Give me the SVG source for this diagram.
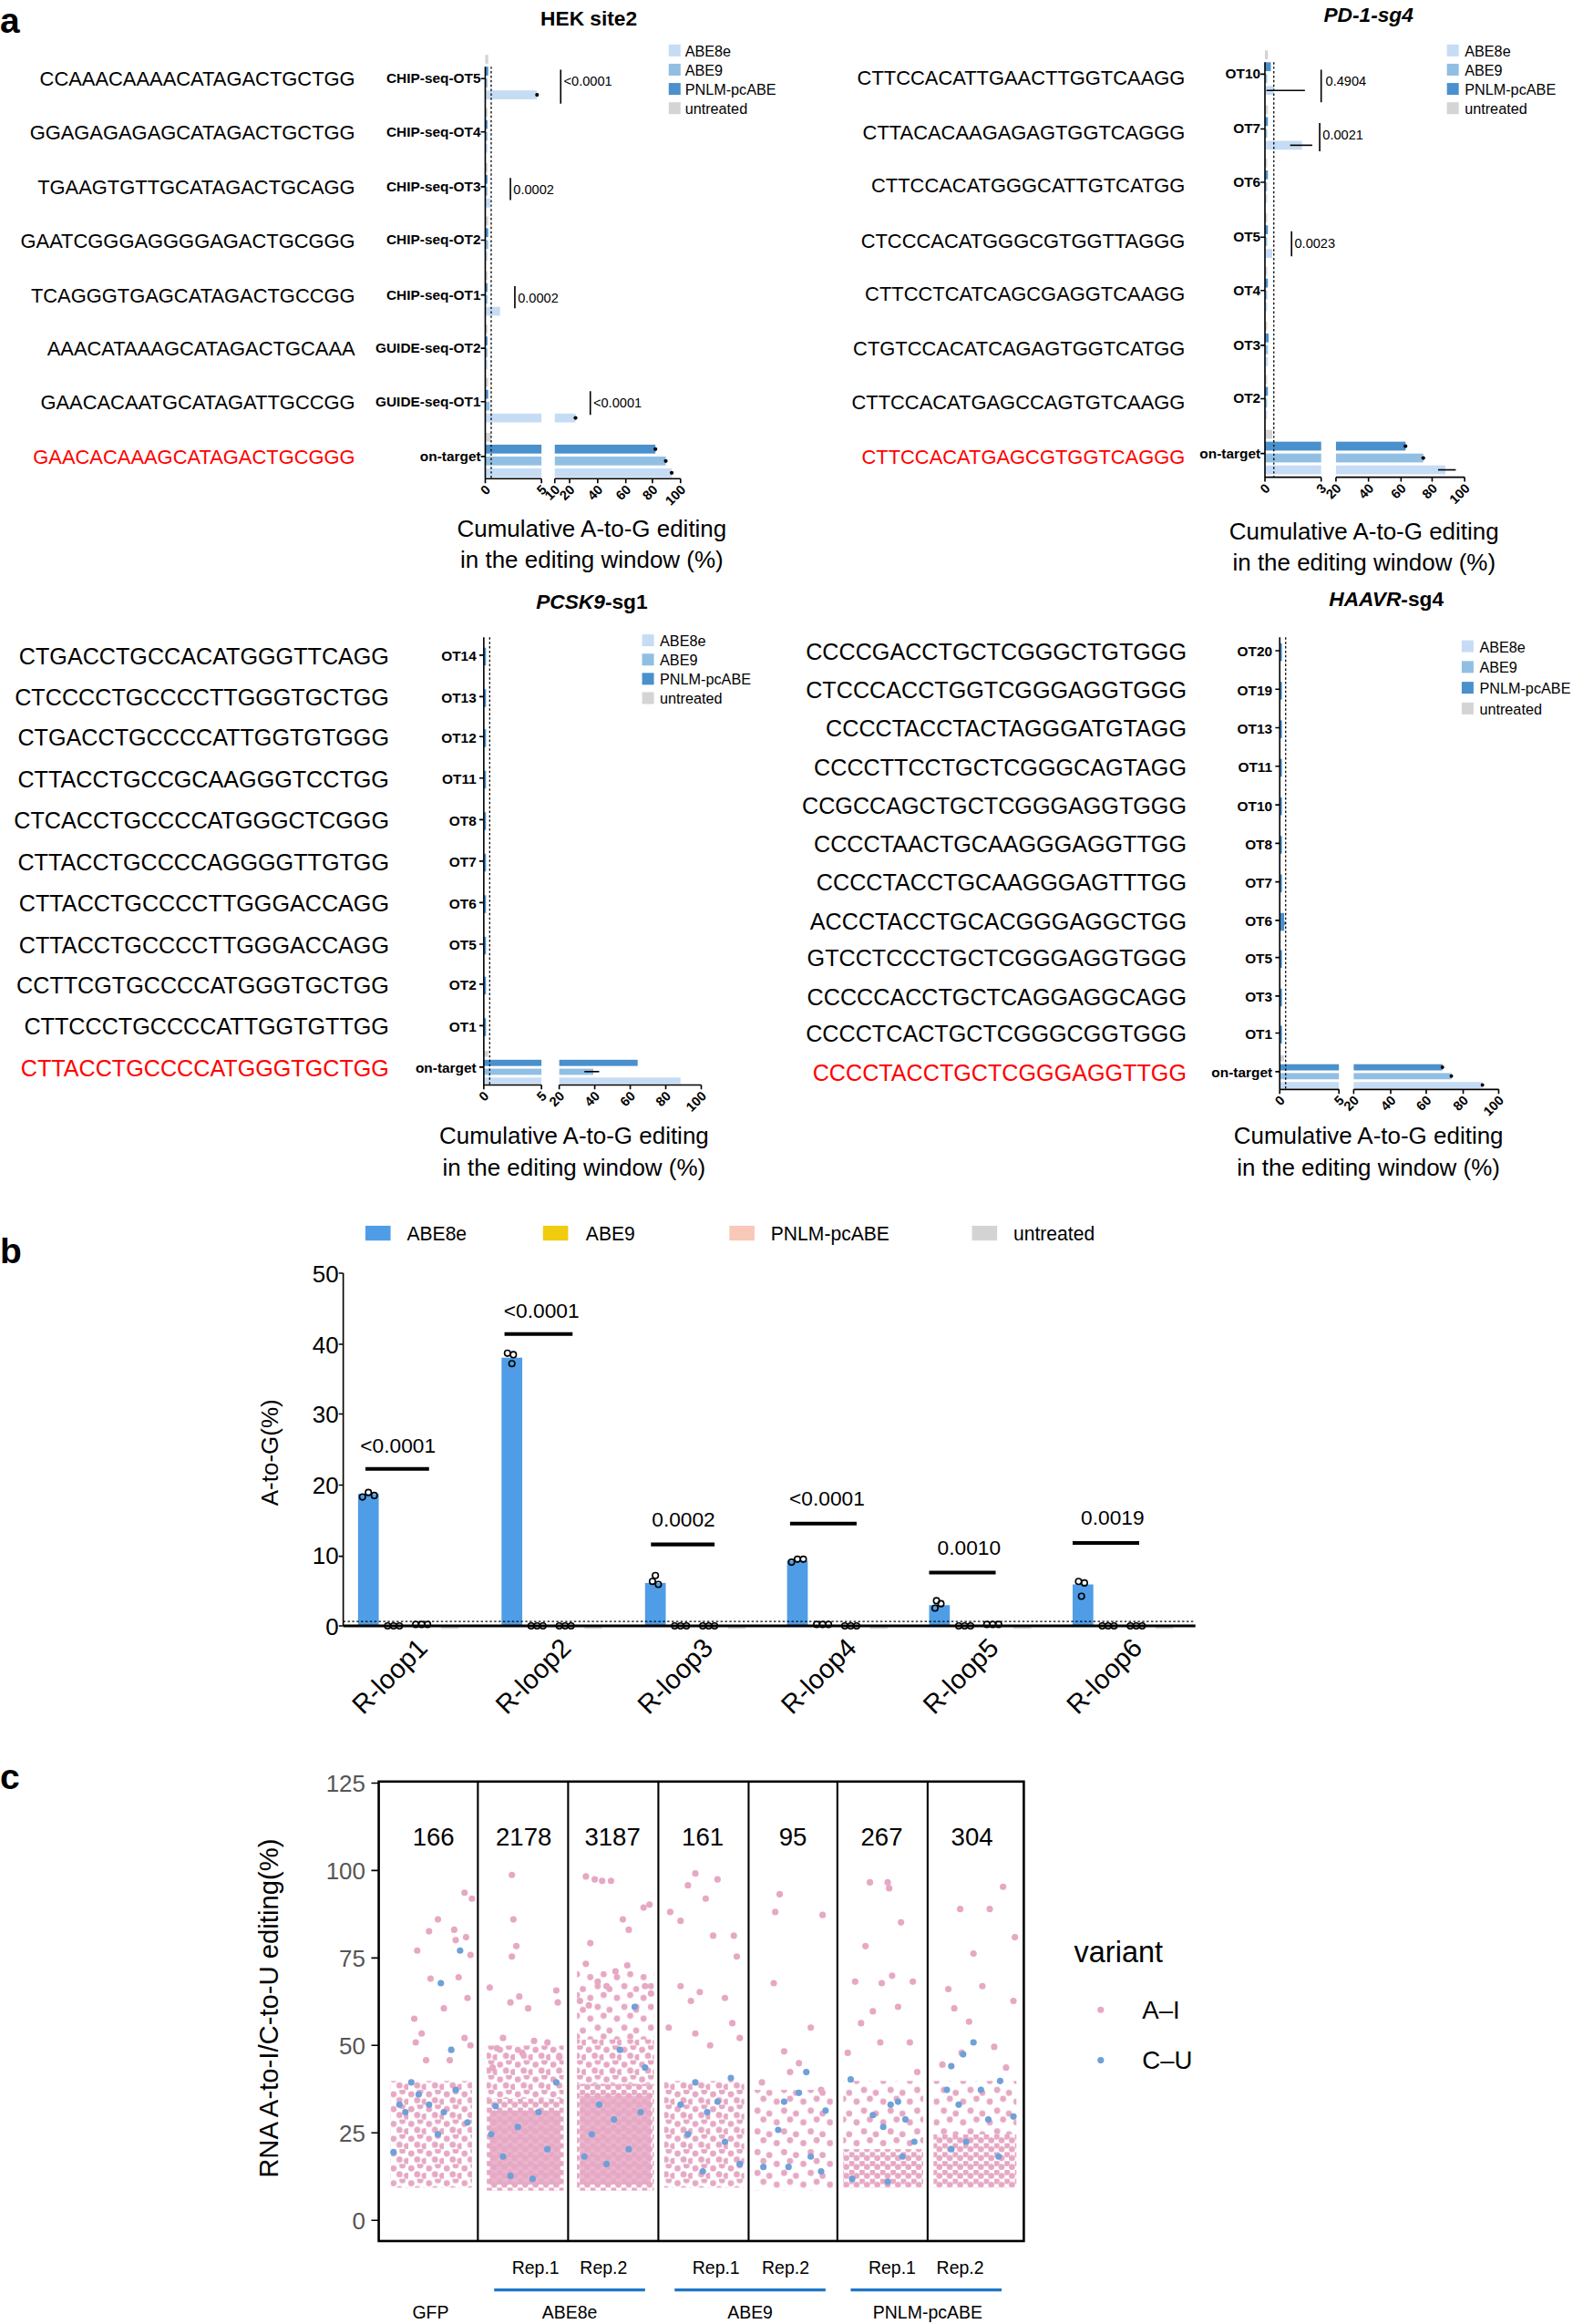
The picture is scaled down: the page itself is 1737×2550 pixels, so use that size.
<svg xmlns="http://www.w3.org/2000/svg" width="1737" height="2550" viewBox="0 0 1737 2550">
<defs>
<style>
text{font-family:"Liberation Sans",Arial,sans-serif;fill:#000}
.pl{font-weight:bold;font-size:24px}
.tt{font-weight:bold;font-size:14px}
.sq{font-size:13.5px}
.sq2{font-size:15.5px}
.red{fill:#ff0000}
.lb{font-weight:bold;font-size:9.5px;text-anchor:end}
.tk{font-weight:bold;font-size:9px;text-anchor:end}
.at{font-size:16px;text-anchor:middle}
.lg{font-size:10px}
.pv{font-size:9px}
.ax{stroke:#000;stroke-width:1;fill:none}
.dt{stroke:#000;stroke-width:0.8;stroke-dasharray:1.5,1.5}
.c1{fill:#c6dcf5}.c2{fill:#91bfe3}.c3{fill:#4a90cc}.c4{fill:#d4d4d4}
.bA{fill:#4f9de6}.bB{fill:#f0cc10}.bC{fill:#f8c8b8}.bD{fill:#d3d3d3}
.pt{stroke:#000;stroke-width:1;fill:none}
.pk{fill:#e6a8c4}.bl{fill:#6fa0d8}
.gy{fill:#555;font-size:16px;text-anchor:end}
</style>
<pattern id="pd" patternUnits="userSpaceOnUse" width="7" height="6"><circle cx="1.5" cy="1.5" r="2.1" fill="#e6a8c4"/><circle cx="5" cy="4" r="2.1" fill="#e6a8c4"/></pattern>
<pattern id="pm" patternUnits="userSpaceOnUse" width="12" height="10"><circle cx="2" cy="3" r="2.1" fill="#e6a8c4"/><circle cx="8" cy="1" r="2.1" fill="#e6a8c4"/><circle cx="6" cy="7" r="2.1" fill="#e6a8c4"/><circle cx="11" cy="8" r="2.1" fill="#e6a8c4"/></pattern>
<pattern id="ps" patternUnits="userSpaceOnUse" width="18" height="14"><circle cx="3" cy="4" r="2.1" fill="#e6a8c4"/><circle cx="12" cy="2" r="2.1" fill="#e6a8c4"/><circle cx="8" cy="10" r="2.1" fill="#e6a8c4"/><circle cx="16" cy="12" r="2.1" fill="#e6a8c4"/></pattern>
</defs>
<rect width="1737" height="2550" fill="#fff"/>
<g transform="scale(1.6234,1.6263)">
<text class="pl" x="0" y="22">a</text>
<text class="pl" x="0" y="852">b</text>
<text class="pl" x="0" y="1207">c</text>

<!-- HEK site2 -->
<g id="hek">
<text class="tt" x="398" y="17" text-anchor="middle">HEK site2</text>
<g class="sq" text-anchor="end">
<text x="240" y="58">CCAAACAAAACATAGACTGCTGG</text>
<text x="240" y="94">GGAGAGAGAGCATAGACTGCTGG</text>
<text x="240" y="131">TGAAGTGTTGCATAGACTGCAGG</text>
<text x="240" y="167">GAATCGGGAGGGGAGACTGCGGG</text>
<text x="240" y="204">TCAGGGTGAGCATAGACTGCCGG</text>
<text x="240" y="240">AAACATAAAGCATAGACTGCAAA</text>
<text x="240" y="276">GAACACAATGCATAGATTGCCGG</text>
<text x="240" y="313" class="red">GAACACAAAGCATAGACTGCGGG</text>
</g>
<text class="lb" x="325" y="56">CHIP-seq-OT5</text>
<text class="lb" x="325" y="92">CHIP-seq-OT4</text>
<text class="lb" x="325" y="129">CHIP-seq-OT3</text>
<text class="lb" x="325" y="165">CHIP-seq-OT2</text>
<text class="lb" x="325" y="202">CHIP-seq-OT1</text>
<text class="lb" x="325" y="238">GUIDE-seq-OT2</text>
<text class="lb" x="325" y="274">GUIDE-seq-OT1</text>
<text class="lb" x="325" y="311">on-target</text>
<g>
<rect class="c4" x="328" y="37" width="2" height="6"/><rect class="c3" x="328" y="45" width="2" height="6"/><rect class="c2" x="328" y="53" width="1.5" height="6"/><rect class="c1" x="328" y="61" width="35" height="6"/>
<rect class="c4" x="328" y="73" width="1.5" height="6"/><rect class="c3" x="328" y="81" width="1.5" height="6"/><rect class="c2" x="328" y="89" width="1.5" height="6"/><rect class="c1" x="328" y="97" width="1.5" height="6"/>
<rect class="c4" x="328" y="110" width="1.5" height="6"/><rect class="c3" x="328" y="118" width="1.5" height="6"/><rect class="c2" x="328" y="126" width="1.5" height="6"/><rect class="c1" x="328" y="134" width="3.5" height="6"/>
<rect class="c4" x="328" y="146" width="2" height="6"/><rect class="c3" x="328" y="154" width="2" height="6"/><rect class="c2" x="328" y="162" width="2" height="6"/><rect class="c1" x="328" y="170" width="1.5" height="6"/>
<rect class="c4" x="328" y="183" width="1.5" height="6"/><rect class="c3" x="328" y="191" width="1.5" height="6"/><rect class="c2" x="328" y="199" width="1.5" height="6"/><rect class="c1" x="328" y="207" width="10" height="6"/>
<rect class="c4" x="328" y="219" width="1.5" height="6"/><rect class="c3" x="328" y="227" width="1.5" height="6"/><rect class="c2" x="328" y="235" width="1.5" height="6"/><rect class="c1" x="328" y="243" width="1.5" height="6"/>
<rect class="c4" x="328" y="255" width="2" height="6"/><rect class="c3" x="328" y="263" width="2" height="6"/><rect class="c2" x="328" y="271" width="3" height="6"/><rect class="c1" x="328" y="279" width="38" height="6"/><rect class="c1" x="375" y="279" width="14" height="6"/>
<rect class="c4" x="328" y="292" width="4" height="6"/>
<rect class="c3" x="328" y="300" width="38" height="6"/><rect class="c3" x="375" y="300" width="68" height="6"/>
<rect class="c2" x="328" y="308" width="38" height="6"/><rect class="c2" x="375" y="308" width="75" height="6"/>
<rect class="c1" x="328" y="316" width="38" height="6"/><rect class="c1" x="375" y="316" width="79" height="6"/>
<circle cx="363" cy="64" r="1.3"/><circle cx="389" cy="282" r="1.3"/><circle cx="443" cy="303" r="1.3"/><circle cx="450" cy="311" r="1.3"/><circle cx="454" cy="319" r="1.3"/>
</g>
<line class="dt" x1="332" y1="45" x2="332" y2="323"/>
<path class="ax" d="M328 45V323H366M375 323H460M328 323v3M366 323v3M375 323v3M385 323v3M404 323v3M423 323v3M441 323v3M460 323v3"/>
<path class="ax" d="M325 53h3M325 89h3M325 126h3M325 162h3M325 199h3M325 235h3M325 271h3M325 308h3"/>
<g class="tk">
<text transform="translate(332,331) rotate(-45)">0</text><text transform="translate(370,331) rotate(-45)">5</text><text transform="translate(379,331) rotate(-45)">10</text><text transform="translate(389,331) rotate(-45)">20</text><text transform="translate(408,331) rotate(-45)">40</text><text transform="translate(427,331) rotate(-45)">60</text><text transform="translate(445,331) rotate(-45)">80</text><text transform="translate(464,331) rotate(-45)">100</text>
</g>
<path class="ax" d="M379 47V70M345 120V135M348 193V208M399 264V280"/>
<text class="pv" x="381" y="58">&lt;0.0001</text><text class="pv" x="347" y="131">0.0002</text><text class="pv" x="350" y="204">0.0002</text><text class="pv" x="401" y="275">&lt;0.0001</text>
<rect class="c1" x="452" y="30" width="8" height="8"/><rect class="c2" x="452" y="43" width="8" height="8"/><rect class="c3" x="452" y="56" width="8" height="8"/><rect class="c4" x="452" y="69" width="8" height="8"/>
<text class="lg" x="463" y="38">ABE8e</text><text class="lg" x="463" y="51">ABE9</text><text class="lg" x="463" y="64">PNLM-pcABE</text><text class="lg" x="463" y="77">untreated</text>
<text class="at" x="400" y="362">Cumulative A-to-G editing</text><text class="at" x="400" y="383">in the editing window (%)</text>
</g>

<!-- PD-1 -->
<g id="pd1">
<text class="tt" x="925" y="15" text-anchor="middle" font-style="italic">PD-1-sg4</text>
<g class="sq" text-anchor="end">
<text x="801" y="57">CTTCCACATTGAACTTGGTCAAGG</text>
<text x="801" y="94">CTTACACAAGAGAGTGGTCAGGG</text>
<text x="801" y="130">CTTCCACATGGGCATTGTCATGG</text>
<text x="801" y="167">CTCCCACATGGGCGTGGTTAGGG</text>
<text x="801" y="203">CTTCCTCATCAGCGAGGTCAAGG</text>
<text x="801" y="240">CTGTCCACATCAGAGTGGTCATGG</text>
<text x="801" y="276">CTTCCACATGAGCCAGTGTCAAGG</text>
<text x="801" y="313" class="red">CTTCCACATGAGCGTGGTCAGGG</text>
</g>
<text class="lb" x="852" y="53">OT10</text><text class="lb" x="852" y="90">OT7</text><text class="lb" x="852" y="126">OT6</text><text class="lb" x="852" y="163">OT5</text><text class="lb" x="852" y="199">OT4</text><text class="lb" x="852" y="236">OT3</text><text class="lb" x="852" y="272">OT2</text><text class="lb" x="852" y="309">on-target</text>
<g>
<rect class="c4" x="855" y="34" width="2" height="6"/><rect class="c3" x="855" y="42" width="4" height="6"/><rect class="c2" x="855" y="50" width="1.5" height="6"/><rect class="c1" x="855" y="58" width="6" height="6"/>
<path class="ax" d="M856 61H882" stroke-width="0.7"/>
<rect class="c4" x="855" y="71" width="2" height="6"/><rect class="c3" x="855" y="79" width="2" height="6"/><rect class="c2" x="855" y="87" width="1.5" height="6"/><rect class="c1" x="855" y="95" width="25" height="6"/>
<path class="ax" d="M872 98H887" stroke-width="0.7"/>
<rect class="c4" x="855" y="107" width="1.5" height="6"/><rect class="c3" x="855" y="115" width="2" height="6"/><rect class="c2" x="855" y="123" width="1.5" height="6"/><rect class="c1" x="855" y="131" width="1.5" height="6"/>
<rect class="c4" x="855" y="144" width="1.5" height="6"/><rect class="c3" x="855" y="152" width="2" height="6"/><rect class="c2" x="855" y="160" width="1.5" height="6"/><rect class="c1" x="855" y="168" width="5" height="6"/>
<rect class="c4" x="855" y="180" width="1.5" height="6"/><rect class="c3" x="855" y="188" width="2" height="6"/><rect class="c2" x="855" y="196" width="1.5" height="6"/><rect class="c1" x="855" y="204" width="1.5" height="6"/>
<rect class="c4" x="855" y="217" width="1.5" height="6"/><rect class="c3" x="855" y="225" width="2.5" height="6"/><rect class="c2" x="855" y="233" width="2" height="6"/><rect class="c1" x="855" y="241" width="2" height="6"/>
<rect class="c4" x="855" y="253" width="1.5" height="6"/><rect class="c3" x="855" y="261" width="2" height="6"/><rect class="c2" x="855" y="269" width="1.5" height="6"/><rect class="c1" x="855" y="277" width="1.5" height="6"/>
<rect class="c4" x="855" y="290" width="5" height="6"/>
<rect class="c3" x="855" y="298" width="38" height="6"/><rect class="c3" x="903" y="298" width="47" height="6"/>
<rect class="c2" x="855" y="306" width="38" height="6"/><rect class="c2" x="903" y="306" width="59" height="6"/>
<rect class="c1" x="855" y="314" width="38" height="6"/><rect class="c1" x="903" y="314" width="74" height="6"/>
<circle cx="950" cy="301" r="1.3"/><circle cx="962" cy="309" r="1.3"/><path class="ax" d="M972 317H984" stroke-width="0.7"/>
</g>
<line class="dt" x1="861" y1="42" x2="861" y2="322"/>
<path class="ax" d="M855 42V322H893M903 322H990M855 322v3M893 322v3M903 322v3M925 322v3M947 322v3M968 322v3M990 322v3"/>
<path class="ax" d="M852 50h3M852 87h3M852 123h3M852 160h3M852 196h3M852 233h3M852 269h3M852 306h3"/>
<g class="tk">
<text transform="translate(859,330) rotate(-45)">0</text><text transform="translate(897,330) rotate(-45)">3</text><text transform="translate(907,330) rotate(-45)">20</text><text transform="translate(929,330) rotate(-45)">40</text><text transform="translate(951,330) rotate(-45)">60</text><text transform="translate(972,330) rotate(-45)">80</text><text transform="translate(994,330) rotate(-45)">100</text>
</g>
<path class="ax" d="M893 47V69M892 83V102M873 156V173"/>
<text class="pv" x="896" y="58">0.4904</text><text class="pv" x="894" y="94">0.0021</text><text class="pv" x="875" y="167">0.0023</text>
<rect class="c1" x="978" y="30" width="8" height="8"/><rect class="c2" x="978" y="43" width="8" height="8"/><rect class="c3" x="978" y="56" width="8" height="8"/><rect class="c4" x="978" y="69" width="8" height="8"/>
<text class="lg" x="990" y="38">ABE8e</text><text class="lg" x="990" y="51">ABE9</text><text class="lg" x="990" y="64">PNLM-pcABE</text><text class="lg" x="990" y="77">untreated</text>
<text class="at" x="922" y="364">Cumulative A-to-G editing</text><text class="at" x="922" y="385">in the editing window (%)</text>
</g>

<!-- PCSK9 -->
<g id="pcsk9">
<text class="tt" x="400" y="411" text-anchor="middle"><tspan font-style="italic">PCSK9</tspan>-sg1</text>
<g class="sq2" text-anchor="end">
<text x="263" y="448">CTGACCTGCCACATGGGTTCAGG</text>
<text x="263" y="476">CTCCCCTGCCCCTTGGGTGCTGG</text>
<text x="263" y="503">CTGACCTGCCCCATTGGTGTGGG</text>
<text x="263" y="531">CTTACCTGCCGCAAGGGTCCTGG</text>
<text x="263" y="559">CTCACCTGCCCCATGGGCTCGGG</text>
<text x="263" y="587">CTTACCTGCCCCAGGGGTTGTGG</text>
<text x="263" y="615">CTTACCTGCCCCTTGGGACCAGG</text>
<text x="263" y="643">CTTACCTGCCCCTTGGGACCAGG</text>
<text x="263" y="670">CCTTCGTGCCCCATGGGTGCTGG</text>
<text x="263" y="698">CTTCCCTGCCCCATTGGTGTTGG</text>
<text x="263" y="726" class="red">CTTACCTGCCCCATGGGTGCTGG</text>
</g>
<text class="lb" x="322" y="446">OT14</text><text class="lb" x="322" y="474">OT13</text><text class="lb" x="322" y="501">OT12</text><text class="lb" x="322" y="529">OT11</text><text class="lb" x="322" y="557">OT8</text><text class="lb" x="322" y="585">OT7</text><text class="lb" x="322" y="613">OT6</text><text class="lb" x="322" y="641">OT5</text><text class="lb" x="322" y="668">OT2</text><text class="lb" x="322" y="696">OT1</text><text class="lb" x="322" y="724">on-target</text>
<g>
<rect class="c3" x="327" y="437" width="1.5" height="12"/><rect class="c3" x="327" y="465" width="1.5" height="12"/><rect class="c3" x="327" y="492" width="1.5" height="12"/><rect class="c3" x="327" y="520" width="1.5" height="12"/><rect class="c3" x="327" y="548" width="1.5" height="12"/><rect class="c3" x="327" y="576" width="1.5" height="12"/><rect class="c3" x="327" y="604" width="1.5" height="12"/><rect class="c3" x="327" y="632" width="1.5" height="12"/><rect class="c3" x="327" y="659" width="1.5" height="12"/><rect class="c3" x="327" y="687" width="1.5" height="12"/>
<rect class="c4" x="327" y="709" width="3" height="4"/>
<rect class="c3" x="327" y="715" width="39" height="4.2"/><rect class="c3" x="378" y="715" width="53" height="4.2"/>
<rect class="c2" x="327" y="721" width="39" height="4.2"/><rect class="c2" x="378" y="721" width="23" height="4.2"/>
<rect class="c1" x="327" y="727" width="39" height="4.2"/><rect class="c1" x="378" y="727" width="82" height="4.2"/>
<path class="ax" d="M395 723H405" stroke-width="0.6"/>
</g>
<line class="dt" x1="331" y1="430" x2="331" y2="732"/>
<path class="ax" d="M327 430V732H366M378 732H474M327 732v3M366 732v3M378 732v3M402 732v3M426 732v3M450 732v3M474 732v3"/>
<path class="ax" d="M324 442h3M324 470h3M324 497h3M324 525h3M324 553h3M324 581h3M324 609h3M324 637h3M324 664h3M324 692h3M324 720h3"/>
<g class="tk">
<text transform="translate(331,740) rotate(-45)">0</text><text transform="translate(370,740) rotate(-45)">5</text><text transform="translate(382,740) rotate(-45)">20</text><text transform="translate(406,740) rotate(-45)">40</text><text transform="translate(430,740) rotate(-45)">60</text><text transform="translate(454,740) rotate(-45)">80</text><text transform="translate(478,740) rotate(-45)">100</text>
</g>
<rect class="c1" x="434" y="428" width="8" height="8"/><rect class="c2" x="434" y="441" width="8" height="8"/><rect class="c3" x="434" y="454" width="8" height="8"/><rect class="c4" x="434" y="467" width="8" height="8"/>
<text class="lg" x="446" y="436">ABE8e</text><text class="lg" x="446" y="449">ABE9</text><text class="lg" x="446" y="462">PNLM-pcABE</text><text class="lg" x="446" y="475">untreated</text>
<text class="at" x="388" y="772">Cumulative A-to-G editing</text><text class="at" x="388" y="793">in the editing window (%)</text>
</g>

<!-- HAAVR -->
<g id="haavr">
<text class="tt" x="937" y="409" text-anchor="middle"><tspan font-style="italic">HAAVR</tspan>-sg4</text>
<g class="sq2" text-anchor="end">
<text x="802" y="445">CCCCGACCTGCTCGGGCTGTGGG</text>
<text x="802" y="471">CTCCCACCTGGTCGGGAGGTGGG</text>
<text x="802" y="497">CCCCTACCTACTAGGGATGTAGG</text>
<text x="802" y="523">CCCCTTCCTGCTCGGGCAGTAGG</text>
<text x="802" y="549">CCGCCAGCTGCTCGGGAGGTGGG</text>
<text x="802" y="575">CCCCTAACTGCAAGGGAGGTTGG</text>
<text x="802" y="601">CCCCTACCTGCAAGGGAGTTTGG</text>
<text x="802" y="627">ACCCTACCTGCACGGGAGGCTGG</text>
<text x="802" y="652">GTCCTCCCTGCTCGGGAGGTGGG</text>
<text x="802" y="678">CCCCCACCTGCTCAGGAGGCAGG</text>
<text x="802" y="703">CCCCTCACTGCTCGGGCGGTGGG</text>
<text x="802" y="729" class="red">CCCCTACCTGCTCGGGAGGTTGG</text>
</g>
<text class="lb" x="860" y="443">OT20</text><text class="lb" x="860" y="469">OT19</text><text class="lb" x="860" y="495">OT13</text><text class="lb" x="860" y="521">OT11</text><text class="lb" x="860" y="547">OT10</text><text class="lb" x="860" y="573">OT8</text><text class="lb" x="860" y="599">OT7</text><text class="lb" x="860" y="625">OT6</text><text class="lb" x="860" y="650">OT5</text><text class="lb" x="860" y="676">OT3</text><text class="lb" x="860" y="701">OT1</text><text class="lb" x="860" y="727">on-target</text>
<g>
<rect class="c3" x="865" y="434" width="1.5" height="12"/><rect class="c3" x="865" y="460" width="1.5" height="12"/><rect class="c3" x="865" y="486" width="1.5" height="12"/><rect class="c3" x="865" y="512" width="1.5" height="12"/><rect class="c3" x="865" y="538" width="1.5" height="12"/><rect class="c3" x="865" y="564" width="1.5" height="12"/><rect class="c3" x="865" y="590" width="1.5" height="12"/><rect class="c3" x="865" y="616" width="3" height="12"/><rect class="c3" x="865" y="641" width="1.5" height="12"/><rect class="c3" x="865" y="667" width="1.5" height="12"/><rect class="c3" x="865" y="692" width="1.5" height="12"/>
<circle cx="868" cy="623" r="1.3" fill="#4a90cc"/>
<rect class="c4" x="865" y="712" width="3" height="4"/>
<rect class="c3" x="865" y="718" width="40" height="4.2"/><rect class="c3" x="915" y="718" width="60" height="4.2"/>
<rect class="c2" x="865" y="724" width="40" height="4.2"/><rect class="c2" x="915" y="724" width="66" height="4.2"/>
<rect class="c1" x="865" y="730" width="40" height="4.2"/><rect class="c1" x="915" y="730" width="87" height="4.2"/>
<circle cx="975" cy="720" r="1.2"/><circle cx="981" cy="726" r="1.2"/><circle cx="1002" cy="732" r="1.2"/>
</g>
<line class="dt" x1="869" y1="430" x2="869" y2="735"/>
<path class="ax" d="M865 430V735H905M915 735H1013M865 735v3M905 735v3M915 735v3M940 735v3M964 735v3M989 735v3M1013 735v3"/>
<path class="ax" d="M862 439h3M862 465h3M862 491h3M862 517h3M862 543h3M862 569h3M862 595h3M862 621h3M862 646h3M862 672h3M862 697h3M862 723h3"/>
<g class="tk">
<text transform="translate(869,743) rotate(-45)">0</text><text transform="translate(909,743) rotate(-45)">5</text><text transform="translate(919,743) rotate(-45)">20</text><text transform="translate(944,743) rotate(-45)">40</text><text transform="translate(968,743) rotate(-45)">60</text><text transform="translate(993,743) rotate(-45)">80</text><text transform="translate(1017,743) rotate(-45)">100</text>
</g>
<rect class="c1" x="988" y="432" width="8" height="8"/><rect class="c2" x="988" y="446" width="8" height="8"/><rect class="c3" x="988" y="460" width="8" height="8"/><rect class="c4" x="988" y="474" width="8" height="8"/>
<text class="lg" x="1000" y="440">ABE8e</text><text class="lg" x="1000" y="454">ABE9</text><text class="lg" x="1000" y="468">PNLM-pcABE</text><text class="lg" x="1000" y="482">untreated</text>
<text class="at" x="925" y="772">Cumulative A-to-G editing</text><text class="at" x="925" y="793">in the editing window (%)</text>
</g>

<!-- Panel b -->
<g id="panelb">
<rect class="bA" x="247" y="827" width="17" height="10"/><rect class="bB" x="367" y="827" width="17" height="10"/><rect class="bC" x="493" y="827" width="17" height="10"/><rect class="bD" x="657" y="827" width="17" height="10"/>
<text x="275" y="837" font-size="13">ABE8e</text><text x="396" y="837" font-size="13">ABE9</text><text x="521" y="837" font-size="13">PNLM-pcABE</text><text x="685" y="837" font-size="13">untreated</text>
<g font-size="16" text-anchor="end">
<text x="229" y="1103">0</text><text x="229" y="1055">10</text><text x="229" y="1008">20</text><text x="229" y="960">30</text><text x="229" y="913">40</text><text x="229" y="865">50</text>
</g>
<text transform="translate(188,980) rotate(-90)" font-size="16" text-anchor="middle">A-to-G(%)</text>
<path class="ax" d="M232 859V1097M229 859h3M229 907h3M229 954h3M229 1002h3M229 1050h3M229 1097h3"/>
<rect class="bA" x="242" y="1008" width="14" height="89"/><rect class="bA" x="339" y="916" width="14" height="181"/><rect class="bA" x="436" y="1068" width="14" height="29"/><rect class="bA" x="532" y="1053" width="14" height="44"/><rect class="bA" x="628" y="1083" width="14" height="14"/><rect class="bA" x="725" y="1069" width="14" height="28"/>
<g fill="#d3d3d3"><rect x="298" y="1097" width="12" height="2"/><rect x="395" y="1097" width="12" height="2"/><rect x="492" y="1097" width="12" height="2"/><rect x="588" y="1097" width="12" height="2"/><rect x="685" y="1097" width="12" height="2"/><rect x="781" y="1097" width="12" height="2"/></g>
<g class="pt">
<circle cx="245" cy="1010" r="2"/><circle cx="249" cy="1007" r="2"/><circle cx="253" cy="1009" r="2"/>
<circle cx="343" cy="913" r="2"/><circle cx="347" cy="914" r="2"/><circle cx="346" cy="920" r="2"/>
<circle cx="441" cy="1067" r="2"/><circle cx="445" cy="1069" r="2"/><circle cx="443" cy="1063" r="2"/>
<circle cx="535" cy="1054" r="2"/><circle cx="539" cy="1052" r="2"/><circle cx="543" cy="1052" r="2"/>
<circle cx="632" cy="1085" r="2"/><circle cx="636" cy="1082" r="2"/><circle cx="633" cy="1080" r="2"/>
<circle cx="729" cy="1067" r="2"/><circle cx="733" cy="1068" r="2"/><circle cx="731" cy="1077" r="2"/>
</g>
<g class="pt" fill="#f0cc10">
<circle cx="262" cy="1097" r="2"/><circle cx="266" cy="1097" r="2"/><circle cx="270" cy="1097" r="2"/><circle cx="281" cy="1096" r="2"/><circle cx="285" cy="1096" r="2"/><circle cx="289" cy="1096" r="2"/>
<circle cx="359" cy="1097" r="2"/><circle cx="363" cy="1097" r="2"/><circle cx="367" cy="1097" r="2"/><circle cx="378" cy="1097" r="2"/><circle cx="382" cy="1097" r="2"/><circle cx="386" cy="1097" r="2"/>
<circle cx="456" cy="1097" r="2"/><circle cx="460" cy="1097" r="2"/><circle cx="464" cy="1097" r="2"/><circle cx="475" cy="1097" r="2"/><circle cx="479" cy="1097" r="2"/><circle cx="483" cy="1097" r="2"/>
<circle cx="552" cy="1096" r="2"/><circle cx="556" cy="1096" r="2"/><circle cx="560" cy="1096" r="2"/><circle cx="571" cy="1097" r="2"/><circle cx="575" cy="1097" r="2"/><circle cx="579" cy="1097" r="2"/>
<circle cx="648" cy="1097" r="2"/><circle cx="652" cy="1097" r="2"/><circle cx="656" cy="1097" r="2"/><circle cx="667" cy="1096" r="2"/><circle cx="671" cy="1096" r="2"/><circle cx="675" cy="1096" r="2"/>
<circle cx="745" cy="1097" r="2"/><circle cx="749" cy="1097" r="2"/><circle cx="753" cy="1097" r="2"/><circle cx="764" cy="1097" r="2"/><circle cx="768" cy="1097" r="2"/><circle cx="772" cy="1097" r="2"/>
</g>
<line class="dt" x1="232" y1="1094" x2="808" y2="1094" stroke-width="1.2"/>
<line x1="232" y1="1097" x2="808" y2="1097" stroke="#000" stroke-width="1.8"/>
<g stroke="#000" stroke-width="2.5"><path d="M247 991H290M341 900H387M440 1042H483M534 1028H579M628 1061H673M725 1041H770"/></g>
<g font-size="14" text-anchor="middle">
<text x="269" y="980">&lt;0.0001</text><text x="366" y="889">&lt;0.0001</text><text x="462" y="1030">0.0002</text><text x="559" y="1016">&lt;0.0001</text><text x="655" y="1049">0.0010</text><text x="752" y="1029">0.0019</text>
</g>
<g font-size="18" text-anchor="end">
<text transform="translate(290,1113) rotate(-45)">R-loop1</text><text transform="translate(387,1113) rotate(-45)">R-loop2</text><text transform="translate(483,1113) rotate(-45)">R-loop3</text><text transform="translate(580,1113) rotate(-45)">R-loop4</text><text transform="translate(676,1113) rotate(-45)">R-loop5</text><text transform="translate(773,1113) rotate(-45)">R-loop6</text>
</g>
</g>

<!-- Panel c -->
<g id="panelc">
<rect x="264" y="1404" width="55" height="72" fill="url(#pm)"/>
<rect x="331" y="1424" width="48" height="50" fill="#eab6cd"/><rect x="329" y="1416" width="52" height="62" fill="url(#pd)"/><rect x="329" y="1380" width="52" height="36" fill="url(#pm)"/>
<rect x="392" y="1414" width="48" height="60" fill="#eab6cd"/><rect x="390" y="1406" width="52" height="72" fill="url(#pd)"/><rect x="390" y="1376" width="52" height="30" fill="url(#pm)"/><rect x="390" y="1330" width="52" height="46" fill="url(#ps)"/>
<rect x="449" y="1404" width="54" height="72" fill="url(#pm)"/>
<rect x="510" y="1410" width="53" height="68" fill="url(#ps)"/>
<rect x="570" y="1450" width="54" height="26" fill="url(#pd)"/><rect x="570" y="1404" width="54" height="46" fill="url(#ps)"/>
<rect x="631" y="1440" width="56" height="36" fill="url(#pd)"/><rect x="631" y="1404" width="56" height="36" fill="url(#ps)"/>
<g class="pk">
<circle cx="296" cy="1295" r="2.2"/><circle cx="307" cy="1302" r="2.2"/><circle cx="308" cy="1309" r="2.2"/><circle cx="310" cy="1334" r="2.2"/><circle cx="315" cy="1307" r="2.2"/><circle cx="319" cy="1281" r="2.2"/><circle cx="314" cy="1277" r="2.2"/><circle cx="318" cy="1319" r="2.2"/><circle cx="316" cy="1348" r="2.2"/><circle cx="318" cy="1380" r="2.2"/><circle cx="290" cy="1303" r="2.2"/><circle cx="280" cy="1362" r="2.2"/><circle cx="285" cy="1372" r="2.2"/><circle cx="288" cy="1390" r="2.2"/><circle cx="291" cy="1335" r="2.2"/><circle cx="281" cy="1378" r="2.2"/><circle cx="300" cy="1355" r="2.2"/><circle cx="314" cy="1375" r="2.2"/><circle cx="304" cy="1390" r="2.2"/><circle cx="282" cy="1316" r="2.2"/>
<circle cx="346" cy="1265" r="2.2"/><circle cx="347" cy="1295" r="2.2"/><circle cx="349" cy="1313" r="2.2"/><circle cx="346" cy="1320" r="2.2"/><circle cx="331" cy="1341" r="2.2"/><circle cx="351" cy="1347" r="2.2"/><circle cx="345" cy="1351" r="2.2"/><circle cx="357" cy="1355" r="2.2"/><circle cx="377" cy="1351" r="2.2"/><circle cx="376" cy="1343" r="2.2"/><circle cx="340" cy="1375" r="2.2"/><circle cx="336" cy="1382" r="2.2"/><circle cx="361" cy="1377" r="2.2"/><circle cx="370" cy="1378" r="2.2"/><circle cx="353" cy="1385" r="2.2"/><circle cx="378" cy="1388" r="2.2"/><circle cx="333" cy="1395" r="2.2"/>
<circle cx="396" cy="1266" r="2.2"/><circle cx="402" cy="1268" r="2.2"/><circle cx="407" cy="1269" r="2.2"/><circle cx="413" cy="1269" r="2.2"/><circle cx="421" cy="1295" r="2.2"/><circle cx="425" cy="1302" r="2.2"/><circle cx="439" cy="1285" r="2.2"/><circle cx="435" cy="1287" r="2.2"/><circle cx="399" cy="1311" r="2.2"/><circle cx="396" cy="1325" r="2.2"/><circle cx="404" cy="1337" r="2.2"/><circle cx="410" cy="1340" r="2.2"/><circle cx="416" cy="1330" r="2.2"/><circle cx="424" cy="1326" r="2.2"/><circle cx="436" cy="1340" r="2.2"/><circle cx="392" cy="1350" r="2.2"/><circle cx="398" cy="1353" r="2.2"/><circle cx="430" cy="1354" r="2.2"/><circle cx="440" cy="1345" r="2.2"/>
<circle cx="470" cy="1264" r="2.2"/><circle cx="465" cy="1272" r="2.2"/><circle cx="485" cy="1268" r="2.2"/><circle cx="477" cy="1281" r="2.2"/><circle cx="453" cy="1290" r="2.2"/><circle cx="460" cy="1296" r="2.2"/><circle cx="482" cy="1306" r="2.2"/><circle cx="496" cy="1306" r="2.2"/><circle cx="498" cy="1320" r="2.2"/><circle cx="460" cy="1340" r="2.2"/><circle cx="473" cy="1344" r="2.2"/><circle cx="467" cy="1350" r="2.2"/><circle cx="490" cy="1348" r="2.2"/><circle cx="452" cy="1368" r="2.2"/><circle cx="470" cy="1372" r="2.2"/><circle cx="480" cy="1380" r="2.2"/><circle cx="495" cy="1365" r="2.2"/><circle cx="500" cy="1375" r="2.2"/>
<circle cx="527" cy="1278" r="2.2"/><circle cx="524" cy="1290" r="2.2"/><circle cx="556" cy="1292" r="2.2"/><circle cx="523" cy="1338" r="2.2"/><circle cx="548" cy="1368" r="2.2"/><circle cx="530" cy="1384" r="2.2"/><circle cx="540" cy="1392" r="2.2"/><circle cx="515" cy="1405" r="2.2"/><circle cx="555" cy="1410" r="2.2"/><circle cx="534" cy="1398" r="2.2"/>
<circle cx="588" cy="1270" r="2.2"/><circle cx="600" cy="1270" r="2.2"/><circle cx="601" cy="1274" r="2.2"/><circle cx="609" cy="1297" r="2.2"/><circle cx="585" cy="1313" r="2.2"/><circle cx="578" cy="1337" r="2.2"/><circle cx="596" cy="1338" r="2.2"/><circle cx="603" cy="1333" r="2.2"/><circle cx="617" cy="1337" r="2.2"/><circle cx="590" cy="1357" r="2.2"/><circle cx="582" cy="1365" r="2.2"/><circle cx="607" cy="1354" r="2.2"/><circle cx="595" cy="1378" r="2.2"/><circle cx="615" cy="1378" r="2.2"/><circle cx="573" cy="1385" r="2.2"/><circle cx="620" cy="1398" r="2.2"/>
<circle cx="678" cy="1273" r="2.2"/><circle cx="649" cy="1288" r="2.2"/><circle cx="669" cy="1288" r="2.2"/><circle cx="686" cy="1307" r="2.2"/><circle cx="658" cy="1318" r="2.2"/><circle cx="641" cy="1342" r="2.2"/><circle cx="664" cy="1340" r="2.2"/><circle cx="645" cy="1355" r="2.2"/><circle cx="685" cy="1350" r="2.2"/><circle cx="655" cy="1364" r="2.2"/><circle cx="672" cy="1381" r="2.2"/><circle cx="650" cy="1385" r="2.2"/><circle cx="637" cy="1393" r="2.2"/><circle cx="680" cy="1395" r="2.2"/>
</g>
<g class="bl">
<circle cx="311" cy="1316" r="2.2"/><circle cx="298" cy="1338" r="2.2"/><circle cx="305" cy="1383" r="2.2"/><circle cx="278" cy="1405" r="2.2"/><circle cx="283" cy="1413" r="2.2"/><circle cx="290" cy="1420" r="2.2"/><circle cx="300" cy="1425" r="2.2"/><circle cx="308" cy="1410" r="2.2"/><circle cx="316" cy="1432" r="2.2"/><circle cx="270" cy="1420" r="2.2"/><circle cx="274" cy="1425" r="2.2"/><circle cx="296" cy="1440" r="2.2"/><circle cx="266" cy="1452" r="2.2"/>
<circle cx="335" cy="1421" r="2.2"/><circle cx="350" cy="1435" r="2.2"/><circle cx="364" cy="1425" r="2.2"/><circle cx="340" cy="1455" r="2.2"/><circle cx="370" cy="1450" r="2.2"/><circle cx="360" cy="1470" r="2.2"/><circle cx="345" cy="1468" r="2.2"/><circle cx="332" cy="1440" r="2.2"/><circle cx="376" cy="1405" r="2.2"/>
<circle cx="429" cy="1354" r="2.2"/><circle cx="419" cy="1383" r="2.2"/><circle cx="436" cy="1395" r="2.2"/><circle cx="405" cy="1420" r="2.2"/><circle cx="400" cy="1440" r="2.2"/><circle cx="415" cy="1430" r="2.2"/><circle cx="425" cy="1450" r="2.2"/><circle cx="433" cy="1425" r="2.2"/><circle cx="410" cy="1460" r="2.2"/><circle cx="395" cy="1455" r="2.2"/>
<circle cx="470" cy="1405" r="2.2"/><circle cx="494" cy="1402" r="2.2"/><circle cx="460" cy="1420" r="2.2"/><circle cx="485" cy="1418" r="2.2"/><circle cx="478" cy="1425" r="2.2"/><circle cx="465" cy="1440" r="2.2"/><circle cx="490" cy="1445" r="2.2"/><circle cx="500" cy="1460" r="2.2"/><circle cx="475" cy="1465" r="2.2"/>
<circle cx="545" cy="1398" r="2.2"/><circle cx="530" cy="1418" r="2.2"/><circle cx="540" cy="1412" r="2.2"/><circle cx="526" cy="1437" r="2.2"/><circle cx="558" cy="1424" r="2.2"/><circle cx="548" cy="1455" r="2.2"/><circle cx="516" cy="1462" r="2.2"/><circle cx="555" cy="1465" r="2.2"/><circle cx="533" cy="1462" r="2.2"/>
<circle cx="575" cy="1403" r="2.2"/><circle cx="590" cy="1427" r="2.2"/><circle cx="602" cy="1420" r="2.2"/><circle cx="607" cy="1418" r="2.2"/><circle cx="612" cy="1430" r="2.2"/><circle cx="597" cy="1435" r="2.2"/><circle cx="610" cy="1455" r="2.2"/><circle cx="618" cy="1445" r="2.2"/><circle cx="576" cy="1470" r="2.2"/><circle cx="600" cy="1472" r="2.2"/>
<circle cx="643" cy="1394" r="2.2"/><circle cx="651" cy="1386" r="2.2"/><circle cx="658" cy="1378" r="2.2"/><circle cx="640" cy="1410" r="2.2"/><circle cx="663" cy="1410" r="2.2"/><circle cx="676" cy="1404" r="2.2"/><circle cx="648" cy="1420" r="2.2"/><circle cx="668" cy="1430" r="2.2"/><circle cx="685" cy="1428" r="2.2"/><circle cx="653" cy="1445" r="2.2"/><circle cx="643" cy="1450" r="2.2"/><circle cx="675" cy="1455" r="2.2"/>
</g>
<rect x="256" y="1202" width="436" height="310" fill="none" stroke="#000" stroke-width="1.6"/>
<path d="M323 1202V1512M384 1202V1512M445 1202V1512M506 1202V1512M566 1202V1512M627 1202V1512" stroke="#000" stroke-width="1.3"/>
<path class="ax" d="M251 1203h5M251 1262h5M251 1321h5M251 1380h5M251 1439h5M251 1498h5"/>
<text class="gy" x="247" y="1209">125</text><text class="gy" x="247" y="1268">100</text><text class="gy" x="247" y="1327">75</text><text class="gy" x="247" y="1386">50</text><text class="gy" x="247" y="1445">25</text><text class="gy" x="247" y="1504">0</text>
<text transform="translate(188,1355) rotate(-90)" font-size="18" text-anchor="middle">RNA A-to-I/C-to-U editing(%)</text>
<g font-size="17" text-anchor="middle">
<text x="293" y="1245">166</text><text x="354" y="1245">2178</text><text x="414" y="1245">3187</text><text x="475" y="1245">161</text><text x="536" y="1245">95</text><text x="596" y="1245">267</text><text x="657" y="1245">304</text>
</g>
<g font-size="12" text-anchor="middle">
<text x="362" y="1534">Rep.1</text><text x="408" y="1534">Rep.2</text><text x="484" y="1534">Rep.1</text><text x="531" y="1534">Rep.2</text><text x="603" y="1534">Rep.1</text><text x="649" y="1534">Rep.2</text>
<text x="291" y="1564">GFP</text><text x="385" y="1564">ABE8e</text><text x="507" y="1564">ABE9</text><text x="627" y="1564">PNLM-pcABE</text>
</g>
<path d="M334 1545H436M456 1545H558M575 1545H677" stroke="#1f77c8" stroke-width="2"/>
<text x="726" y="1324" font-size="20">variant</text>
<circle class="pk" cx="744" cy="1356" r="2.2"/><circle class="bl" cx="744" cy="1390" r="2.2"/>
<text x="772" y="1362" font-size="17">A–I</text><text x="772" y="1396" font-size="17">C–U</text>
</g>
</g>
</svg>
